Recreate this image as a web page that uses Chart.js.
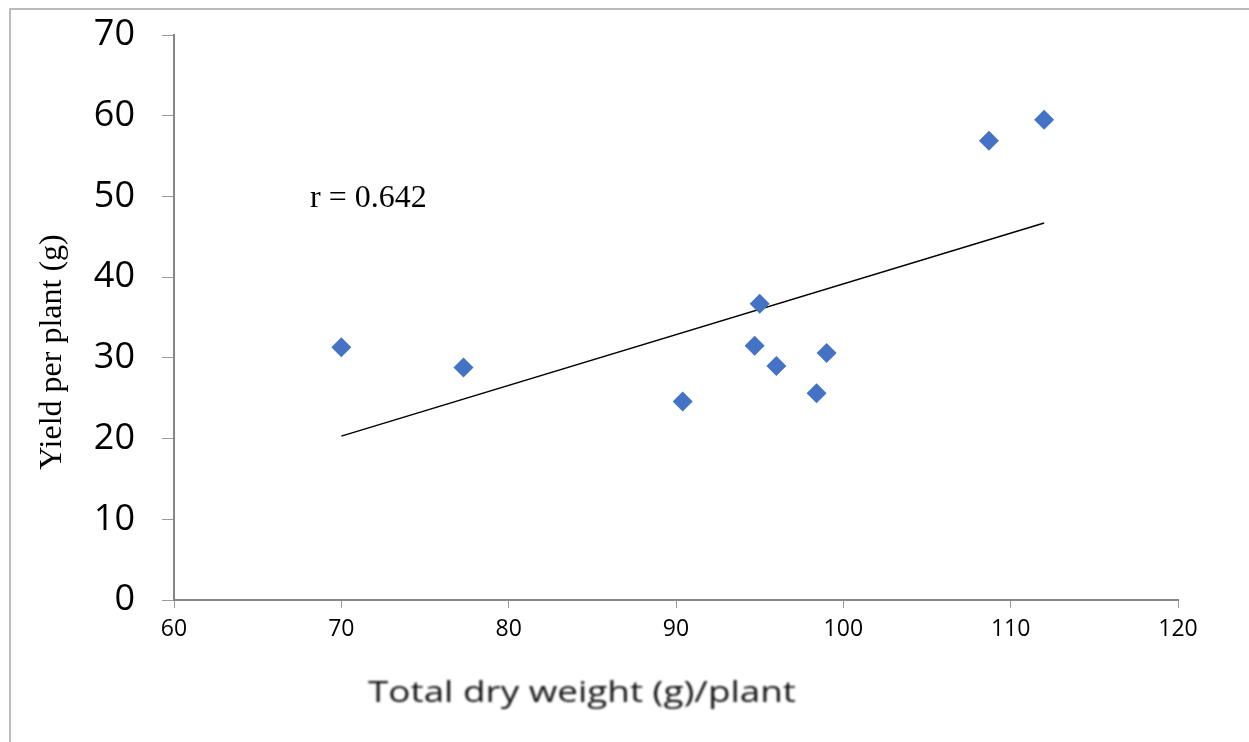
<!DOCTYPE html>
<html>
<head>
<meta charset="utf-8">
<title>Yield vs total dry weight</title>
<script src="https://cdn.jsdelivr.net/npm/chart.js"></script>
<style>
  html, body { margin: 0; padding: 0; background: #fff; }
  #wrap { width: 1249px; height: 742px; position: relative; }
</style>
</head>
<body>
<div id="wrap"><canvas id="scatter"></canvas></div>
<script>
// --- data ---
const dryWeight = [70.0, 77.3, 90.4, 94.7, 95.0, 96.0, 98.4, 99.0, 108.7, 112.0];
const yieldPerPlant = [31.3, 28.8, 24.6, 31.5, 36.7, 29.0, 25.6, 30.6, 56.9, 59.5];

// fitted line end points
const trendX = [70, 112];
const trendY = [20.3, 46.7];

const xTicks = [60, 70, 80, 90, 100, 110, 120];
const yTicks = [0, 10, 20, 30, 40, 50, 60, 70];

const rLabel = 'r = 0.642';
const xTitle = 'Total dry weight (g)/plant';
const yTitle = 'Yield per plant (g)';

// frame, axis titles and the r note
const decorations = {
    id: 'decorations',
    beforeDraw(chart) {
        const ctx = chart.ctx;
        ctx.save();
        ctx.strokeStyle = '#a6a6a6';
        ctx.lineWidth = 1.5;
        ctx.beginPath();
        ctx.moveTo(10, 742);
        ctx.lineTo(10, 9);
        ctx.lineTo(1249, 9);
        ctx.stroke();
        ctx.restore();
    },
    afterDraw(chart) {
        const ctx = chart.ctx;

        ctx.save();
        ctx.fillStyle = '#000';
        ctx.font = '32px "Liberation Serif"';
        ctx.textBaseline = 'alphabetic';
        ctx.textAlign = 'left';
        ctx.fillText(rLabel, 310, 207);
        ctx.restore();

        ctx.save();
        ctx.fillStyle = '#000';
        ctx.font = '32px "Liberation Serif"';
        ctx.textAlign = 'center';
        ctx.textBaseline = 'alphabetic';
        ctx.translate(61, 352);
        ctx.rotate(-Math.PI / 2);
        ctx.fillText(yTitle, 0, 0);
        ctx.restore();

        // x title is soft and stretched wide
        ctx.save();
        ctx.fillStyle = '#111';
        ctx.font = '500 30px "Open Sans"';
        ctx.textAlign = 'left';
        ctx.textBaseline = 'alphabetic';
        ctx.filter = 'blur(0.9px)';
        const w = ctx.measureText(xTitle).width;
        ctx.translate(368, 702);
        ctx.scale(428 / w, 1);
        ctx.fillText(xTitle, 0, 0);
        ctx.restore();
    }
};

new Chart(document.getElementById('scatter'), {
    type: 'scatter',
    data: {
        datasets: [{
            label: 'Yield',
            data: dryWeight.map((x, i) => ({ x: x, y: yieldPerPlant[i] })),
            pointStyle: 'rectRot',
            pointRadius: 10,
            pointHoverRadius: 10,
            backgroundColor: '#4472c4',
            borderColor: '#4472c4',
            borderWidth: 0
        }, {
            type: 'line',
            label: 'Linear',
            data: trendX.map((x, i) => ({ x: x, y: trendY[i] })),
            borderColor: '#000',
            borderWidth: 1.5,
            pointRadius: 0,
            fill: false
        }]
    },
    options: {
        responsive: true,
        maintainAspectRatio: false,
        animation: false,
        layout: { padding: { top: 35, right: 71, left: 0, bottom: 0 } },
        plugins: {
            legend: { display: false },
            tooltip: { enabled: false }
        },
        scales: {
            x: {
                type: 'linear',
                min: 60,
                max: 120,
                afterFit: s => { s.height = 142; },
                afterBuildTicks: s => { s.ticks = xTicks.map(v => ({ value: v })); },
                border: { color: '#868686', width: 2 },
                grid: { drawOnChartArea: false, color: '#9a9a9a', tickLength: 8, lineWidth: 1 },
                ticks: {
                    color: '#000',
                    padding: 8,
                    maxRotation: 0,
                    font: { family: '"Open Sans"', size: 23 }
                }
            },
            y: {
                type: 'linear',
                min: 0,
                max: 70,
                afterFit: s => {
                    s.width = 174;
                    s.paddingTop = 0;
                    s.paddingBottom = 0;
                },
                afterBuildTicks: s => { s.ticks = yTicks.map(v => ({ value: v })); },
                border: { color: '#868686', width: 2 },
                grid: { drawOnChartArea: false, color: '#9a9a9a', tickLength: 12, lineWidth: 1 },
                ticks: {
                    color: '#000',
                    padding: 27,
                    font: { family: '"Open Sans"', size: 36 }
                }
            }
        }
    },
    plugins: [decorations]
});
</script>
</body>
</html>
